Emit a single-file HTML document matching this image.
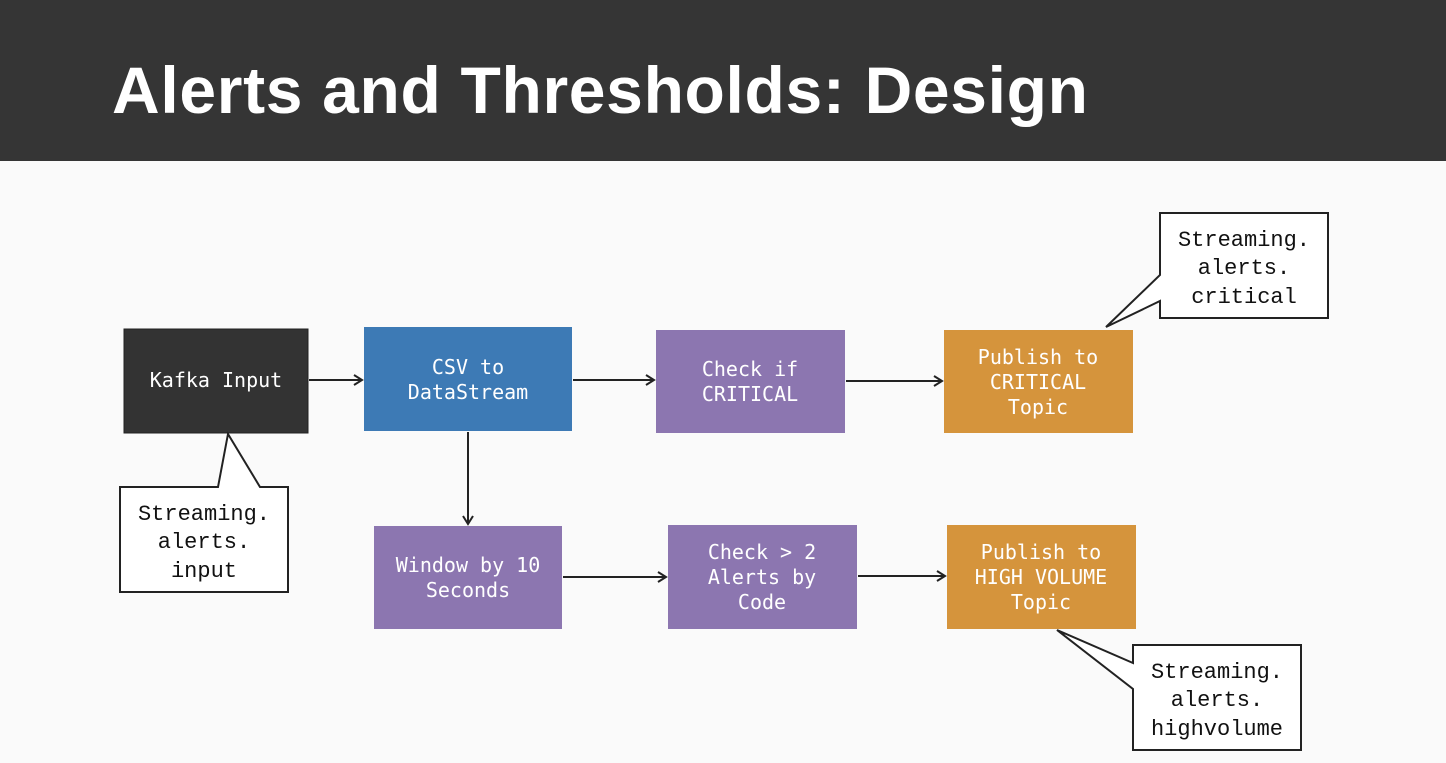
<!DOCTYPE html>
<html><head><meta charset="utf-8"><style>
html,body{margin:0;padding:0;background:#fafafa;}
svg{display:block}
.b{font-family:"DejaVu Sans Mono","Liberation Mono",monospace;font-size:20px;fill:#fff;text-anchor:middle}
.c{font-family:"Liberation Mono",monospace;font-size:22px;fill:#111;text-anchor:middle}
</style></head><body>
<svg width="1446" height="763" viewBox="0 0 1446 763" xmlns="http://www.w3.org/2000/svg">
<defs><marker id="a" markerWidth="12" markerHeight="12" refX="10" refY="6" orient="auto" markerUnits="userSpaceOnUse"><path d="M2,1 L10,6 L2,11" fill="none" stroke="#222" stroke-width="2"/></marker></defs>
<rect x="0" y="0" width="1446" height="161" fill="#353535"/>
<text x="112" y="113" font-family="Liberation Sans,sans-serif" font-weight="bold" font-size="66" fill="#fff" textLength="976">Alerts and Thresholds: Design</text>
<rect x="0" y="161" width="1446" height="602" fill="#fafafa"/>
<g stroke="#222" stroke-width="2" fill="none" marker-end="url(#a)">
<line x1="309" y1="380" x2="362" y2="380"/>
<line x1="573" y1="380" x2="654" y2="380"/>
<line x1="846" y1="381" x2="942" y2="381"/>
<line x1="468" y1="432" x2="468" y2="524"/>
<line x1="563" y1="577" x2="666" y2="577"/>
<line x1="858" y1="576" x2="945" y2="576"/>
</g>
<rect x="124" y="329" width="184" height="104" fill="#333" stroke="#222"/>
<text class="b" x="216" y="387">Kafka Input</text>
<rect x="364" y="327" width="208" height="104" fill="#3d7ab5"/>
<text class="b" x="468" y="374">CSV to</text><text class="b" x="468" y="399">DataStream</text>
<rect x="656" y="330" width="189" height="103" fill="#8c76b0"/>
<text class="b" x="750" y="376">Check if</text><text class="b" x="750" y="401">CRITICAL</text>
<rect x="944" y="330" width="189" height="103" fill="#d5943c"/>
<text class="b" x="1038" y="364">Publish to</text><text class="b" x="1038" y="389">CRITICAL</text><text class="b" x="1038" y="414">Topic</text>
<rect x="374" y="526" width="188" height="103" fill="#8c76b0"/>
<text class="b" x="468" y="572">Window by 10</text><text class="b" x="468" y="597">Seconds</text>
<rect x="668" y="525" width="189" height="104" fill="#8c76b0"/>
<text class="b" x="762" y="559">Check &gt; 2</text><text class="b" x="762" y="584">Alerts by</text><text class="b" x="762" y="609">Code</text>
<rect x="947" y="525" width="189" height="104" fill="#d5943c"/>
<text class="b" x="1041" y="559">Publish to</text><text class="b" x="1041" y="584">HIGH VOLUME</text><text class="b" x="1041" y="609">Topic</text>
<g fill="#fff" stroke="#222" stroke-width="2">
<path d="M120,487 L218,487 L228,434 L260,487 L288,487 L288,592 L120,592 Z"/>
<path d="M1160,213 L1328,213 L1328,318 L1160,318 L1160,301 L1106,327 L1160,275 Z"/>
<path d="M1133,645 L1301,645 L1301,750 L1133,750 L1133,689 L1057,630 L1133,663 Z"/>
</g>
<text class="c" x="204" y="520">Streaming.</text><text class="c" x="204" y="548">alerts.</text><text class="c" x="204" y="577">input</text>
<text class="c" x="1244" y="246">Streaming.</text><text class="c" x="1244" y="274">alerts.</text><text class="c" x="1244" y="303">critical</text>
<text class="c" x="1217" y="678">Streaming.</text><text class="c" x="1217" y="706">alerts.</text><text class="c" x="1217" y="735">highvolume</text>
</svg>
</body></html>
